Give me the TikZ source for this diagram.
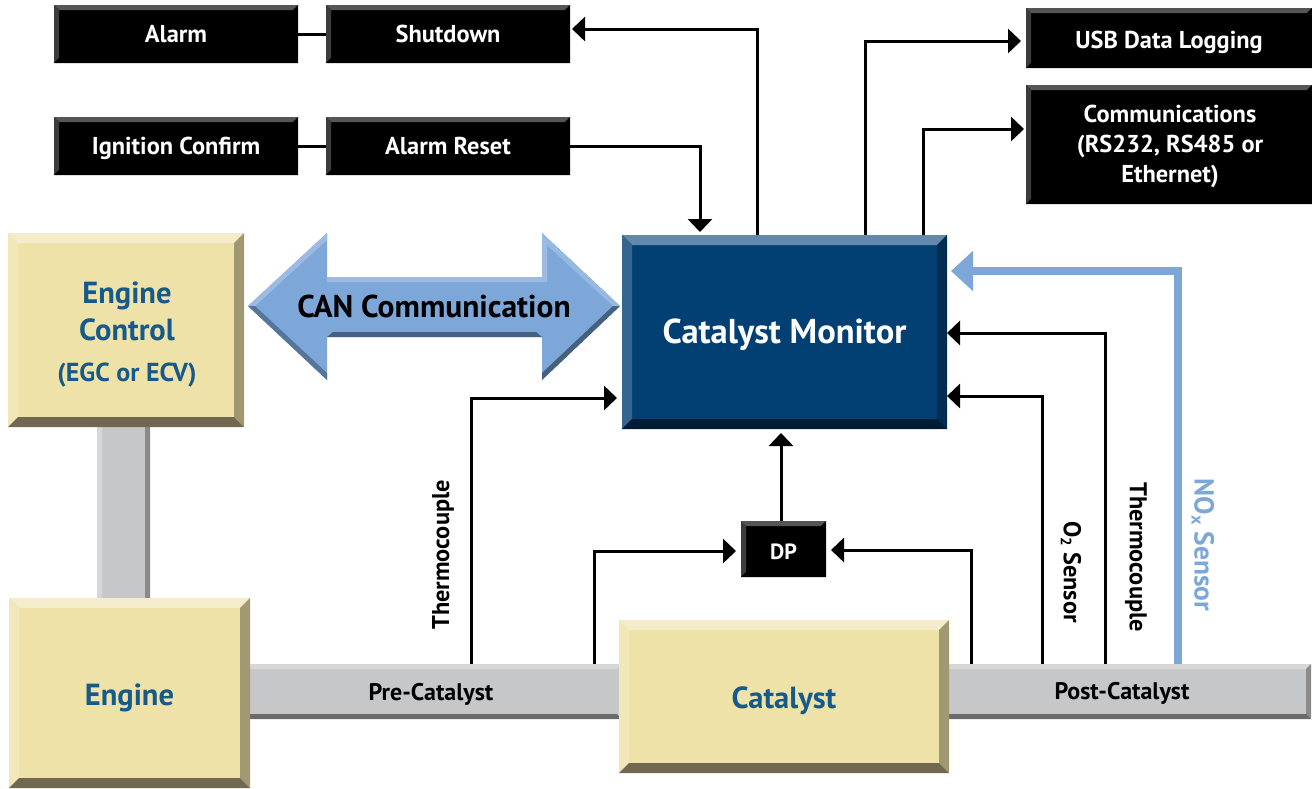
\documentclass[tikz,border=0pt]{standalone}
\usepackage{fontspec}
\setmainfont{PT Sans}
\usetikzlibrary{arrows.meta,calc}
\definecolor{yface}{HTML}{EFE2A9}
\definecolor{ytop}{HTML}{F4ECCA}
\definecolor{yleft}{HTML}{F2E7B8}
\definecolor{yright}{HTML}{A09870}
\definecolor{ybot}{HTML}{706850}
\definecolor{mface}{HTML}{024073}
\definecolor{mtop}{HTML}{6488AB}
\definecolor{mleft}{HTML}{35668F}
\definecolor{mright}{HTML}{022C50}
\definecolor{mbot}{HTML}{021C36}
\definecolor{pface}{HTML}{C6C7C9}
\definecolor{ptop}{HTML}{D6D7D9}
\definecolor{pbot}{HTML}{6B6B6B}
\definecolor{pright}{HTML}{8A8A8A}
\definecolor{ktop}{HTML}{555555}
\definecolor{kleft}{HTML}{3C3C3C}
\definecolor{skyb}{HTML}{7DA7D9}
\definecolor{skyl}{HTML}{9DBBE2}
\definecolor{skyd}{HTML}{46607F}
\definecolor{tblue}{HTML}{155A8A}
\newcommand{\fsz}[1]{\fontsize{#1}{#1}\selectfont}
\newcommand{\bline}[2]{\raisebox{-#1pt}[0pt][0pt]{#2}}
\tikzset{
  bevelbox/.style n args={6}{
    draw=none, fill=#2, inner sep=0pt, outer sep=0pt, align=center, anchor=north west,
    path picture={
      \coordinate (pnw) at (path picture bounding box.north west);
      \coordinate (pne) at (path picture bounding box.north east);
      \coordinate (psw) at (path picture bounding box.south west);
      \coordinate (pse) at (path picture bounding box.south east);
      \fill[#3] (pnw) -- (pne) -- ([shift={(-#1,#1)}]pne) -- ([shift={(#1,#1)}]pnw) -- cycle;
      \fill[#4] (pnw) -- (psw) -- ([shift={(#1,-#1)}]psw) -- ([shift={(#1,#1)}]pnw) -- cycle;
      \fill[#5] (pne) -- (pse) -- ([shift={(-#1,-#1)}]pse) -- ([shift={(-#1,#1)}]pne) -- cycle;
      \fill[#6] (psw) -- (pse) -- ([shift={(-#1,-#1)}]pse) -- ([shift={(#1,-#1)}]psw) -- cycle;
    }},
  ybox/.style={bevelbox={10}{yface}{ytop}{yleft}{yright}{ybot}, text=tblue, font=\bfseries\fsz{30.5}},
  mbox/.style={bevelbox={10}{mface}{mtop}{mleft}{mright}{mbot}, text=white, font=\bfseries\fsz{34.5}},
  kbox/.style={bevelbox={5}{black}{ktop}{kleft}{black}{black}, text=white, font=\bfseries\fsz{24.4}},
  hpipe/.style={bevelbox={5}{pface}{ptop}{pface}{pface}{pbot}, text=black, font=\bfseries\fsz{24}},
  hpipeend/.style={bevelbox={5}{pface}{ptop}{pface}{pright}{pbot}, text=black, font=\bfseries\fsz{24}},
  vpipe/.style={bevelbox={5}{pface}{pface}{ptop}{pright}{pface}},
  wire/.style={draw=black, line width=3pt},
  arr/.style={wire, -{Triangle[length=13pt,width=24pt]}},
  noxarr/.style={draw=skyb, line width=8pt, -{Triangle[length=22pt,width=39pt]}},
  vlabel/.style={font=\bfseries\fsz{24.3}, inner sep=0pt},
  base text/.style={inner sep=0pt, anchor=base},
}
\begin{document}
\begin{tikzpicture}[x=1pt,y=-1pt]
\useasboundingbox (0,0) rectangle (1312,788);
% pipes
\node[vpipe, minimum width=53pt, minimum height=190pt] (vp) at (97,420) {};
\node[hpipe, minimum width=382pt, minimum height=55pt] (pre) at (240,664) {\bline{8.5}{Pre-Catalyst}};
\node[hpipeend, minimum width=378pt, minimum height=55pt] (post) at (933,664) {\bline{8}{Post-Catalyst}};
% yellow boxes
\node[ybox, minimum width=236pt, minimum height=194pt] (ctrl) at (8,233) {};
\node[base text, text=tblue, font=\bfseries\fsz{30.5}] (ctrlA) at (127,303) {Engine};
\node[base text, text=tblue, font=\bfseries\fsz{30.5}] (ctrlB) at (127,340) {Control};
\node[base text, text=tblue, font=\bfseries\fsz{26}] (ctrlC) at (127,381) {(EGC or ECV)};
\node[ybox, minimum width=241pt, minimum height=190pt] (engine) at (9,598) {\bline{12}{Engine}};
\node[ybox, minimum width=330pt, minimum height=153pt] (cat) at (619,620) {\bline{11.5}{Catalyst}};
% monitor
\node[mbox, minimum width=325pt, minimum height=194pt] (mon) at (622,235) {\bline{11}{Catalyst Monitor}};
% black boxes
\node[kbox, minimum width=244pt, minimum height=58pt] (alarm) at (54,5) {\bline{8.5}{Alarm}};
\node[kbox, minimum width=244pt, minimum height=58pt] (shut) at (326,5) {\bline{8.5}{Shutdown}};
\node[kbox, minimum width=244pt, minimum height=58pt] (ign) at (54,117) {\bline{8.5}{Ignition Confirm}};
\node[kbox, minimum width=244pt, minimum height=58pt] (reset) at (326,117) {\bline{8.5}{Alarm Reset}};
\node[kbox, minimum width=286pt, minimum height=60pt] (usb) at (1026,8) {\bline{10}{USB Data Logging}};
\node[kbox, minimum width=286pt, minimum height=119pt] (comm) at (1026,85) {};
\node[base text, text=white, font=\bfseries\fsz{24.4}] (commA) at (1170,122) {Communications};
\node[base text, text=white, font=\bfseries\fsz{24.4}] (commB) at (1170,152) {(RS232, RS485 or};
\node[base text, text=white, font=\bfseries\fsz{24.4}] (commC) at (1170,182) {Ethernet)};
\node[kbox, font=\bfseries\fsz{22}, minimum width=85pt, minimum height=56pt] (dp) at (741,521) {\bline{10}{DP}};
% CAN arrow
\fill[skyb] (248,306) -- (327,233) -- (327,277) -- (542,277) -- (542,233) -- (620,306) -- (542,380) -- (542,337) -- (327,337) -- (327,380) -- cycle;
\fill[skyl] (248,306) -- (327,233) -- (327,240) -- (255,306) -- cycle;
\fill[skyl] (327,277) -- (542,277) -- (542,233) -- (547,240) -- (547,282) -- (327,282) -- cycle;
\fill[skyd] (333,332) -- (536,332) -- (542,337) -- (327,337) -- cycle;
\fill[skyd!70!skyb] (248,306) -- (327,380) -- (327,373) -- (255,306) -- cycle;
\fill[skyd] (620,306) -- (542,380) -- (542,373) -- (613,306) -- cycle;
\fill[skyb!80!white] (542,233) -- (620,306) -- (613,306) -- (548,246) -- cycle;
\node[base text, font=\bfseries\fsz{31.5}] (can) at (434,317) {CAN Communication};
% plain links
\draw[wire] (alarm.east) -- (shut.west);
\draw[wire] (ign.east) -- (reset.west);
% top connectors
\draw[arr] ([shift={(-27.5,0)}]mon.north) |- ([shift={(2,-5)}]shut.east);
\draw[arr] (reset.east) -| ([shift={(-84.5,-3)}]mon.north);
\draw[arr] ([shift={(80.5,0)}]mon.north) |- ([shift={(-5,3)}]usb.west);
\draw[arr] ([shift={(138.5,0)}]mon.north) |- ([shift={(-2,-15.5)}]comm.west);
% right side
\draw[noxarr] ([shift={(55.5,0)}]post.north) |- ([shift={(4,-61)}]mon.east);
\draw[arr] ([shift={(-17,0)}]post.north) |- ([shift={(0,1)}]mon.east);
\draw[arr] ([shift={(-80,0)}]post.north) |- ([shift={(0,64)}]mon.east);
\draw[arr] ([shift={(40,0)}]pre.north) |- ([shift={(-5,66)}]mon.west);
% DP
\draw[arr] ([shift={(-2.5,0)}]dp.north) -- ([shift={(-3.5,4)}]mon.south);
\draw[arr] ([shift={(163,0)}]pre.north) |- ([shift={(-5,2)}]dp.west);
\draw[arr] ([shift={(38,0)}]post.north west) |- ([shift={(5,1)}]dp.east);
% sensor labels
\node[vlabel, rotate=90] (tcl) at (443,555) {Thermocouple};
\node[vlabel, rotate=-90] (o2l) at (1071,572) {O\raisebox{-3pt}{\fsz{15}2} Sensor};
\node[vlabel, rotate=-90] (tcr) at (1136,557) {Thermocouple};
\node[vlabel, rotate=-90, text=skyb, font=\bfseries\fsz{27.5}] (noxl) at (1203,545) {NO\raisebox{-3pt}{\fsz{18}x} Sensor};
\end{tikzpicture}
\end{document}
